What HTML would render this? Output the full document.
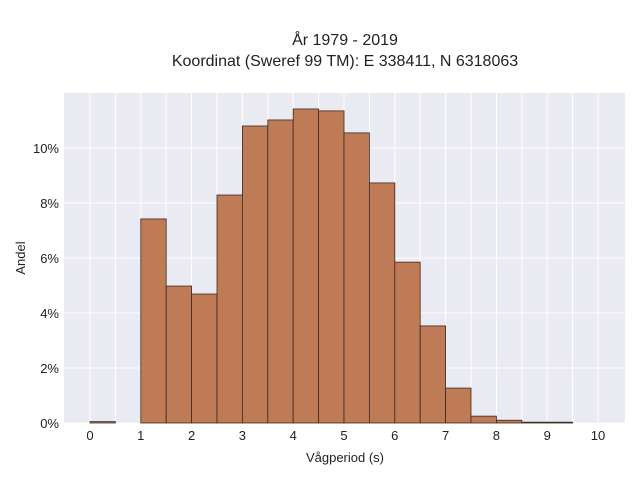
<!DOCTYPE html>
<html><head><meta charset="utf-8"><style>
body{margin:0;background:#fff;width:640px;height:480px;overflow:hidden;font-family:"Liberation Sans",sans-serif}
</style></head><body>
<svg id="chart" width="640" height="480">
<text x="345" y="45" text-anchor="middle" font-size="16" fill="#222">År 1979 - 2019</text>
<text x="345" y="66" text-anchor="middle" font-size="16" fill="#222">Koordinat (Sweref 99 TM): E 338411, N 6318063</text>
<rect x="64" y="93" width="561" height="330" fill="#eaeaf2"/>
<g id="grid"></g><g id="bars"></g><g id="axes"></g>
<text x="345" y="462" text-anchor="middle" font-size="13" fill="#222">Vågperiod (s)</text>
<text transform="translate(25,258) rotate(-90)" text-anchor="middle" font-size="13" fill="#222">Andel</text>
</svg>
<script>
const binStarts=[0,0.5,1,1.5,2,2.5,3,3.5,4,4.5,5,5.5,6,6.5,7,7.5,8,8.5,9,9.5];
const shares=[0.05,0,7.42,4.98,4.69,8.29,10.8,11.02,11.42,11.35,10.55,8.73,5.85,3.53,1.27,0.25,0.1,0.03,0.03,0];
const xTicks=[0,1,2,3,4,5,6,7,8,9,10];
const yTicks=[0,2,4,6,8,10];
const binWidth=0.5;
const NS="http://www.w3.org/2000/svg";
const X=v=>90+v*50.8, Y=v=>423-v*27.5;
const grid=document.getElementById('grid'),bars=document.getElementById('bars'),axes=document.getElementById('axes');
function mk(tag,attrs,parent){const e=document.createElementNS(NS,tag);for(const k in attrs)e.setAttribute(k,attrs[k]);parent.appendChild(e);return e;}
for(let v=0;v<=10;v+=0.5){const l=mk('line',{x1:X(v),x2:X(v),y1:93,y2:423,stroke:'#fff','stroke-width':1},grid);

}
yTicks.forEach(t=>{const l=mk('line',{x1:64,x2:625,y1:Y(t),y2:Y(t),stroke:'#fff','stroke-width':1},grid);


const tx=mk('text',{x:59,y:Y(t)+5,'text-anchor':'end','font-size':13,fill:'#222'},axes);tx.textContent=t+'%';

});
xTicks.forEach(t=>{const tx=mk('text',{x:X(t),y:440,'text-anchor':'middle','font-size':13,fill:'#222'},axes);tx.textContent=t;

});
binStarts.forEach((s,i)=>{if(shares[i]<=0)return;const r=mk('rect',{x:X(s),y:Y(shares[i]),width:X(s+binWidth)-X(s),height:423-Y(shares[i]),fill:'#bf7b56',stroke:'#3a2a22','stroke-width':0.8},bars);

});
</script>
</body></html>
